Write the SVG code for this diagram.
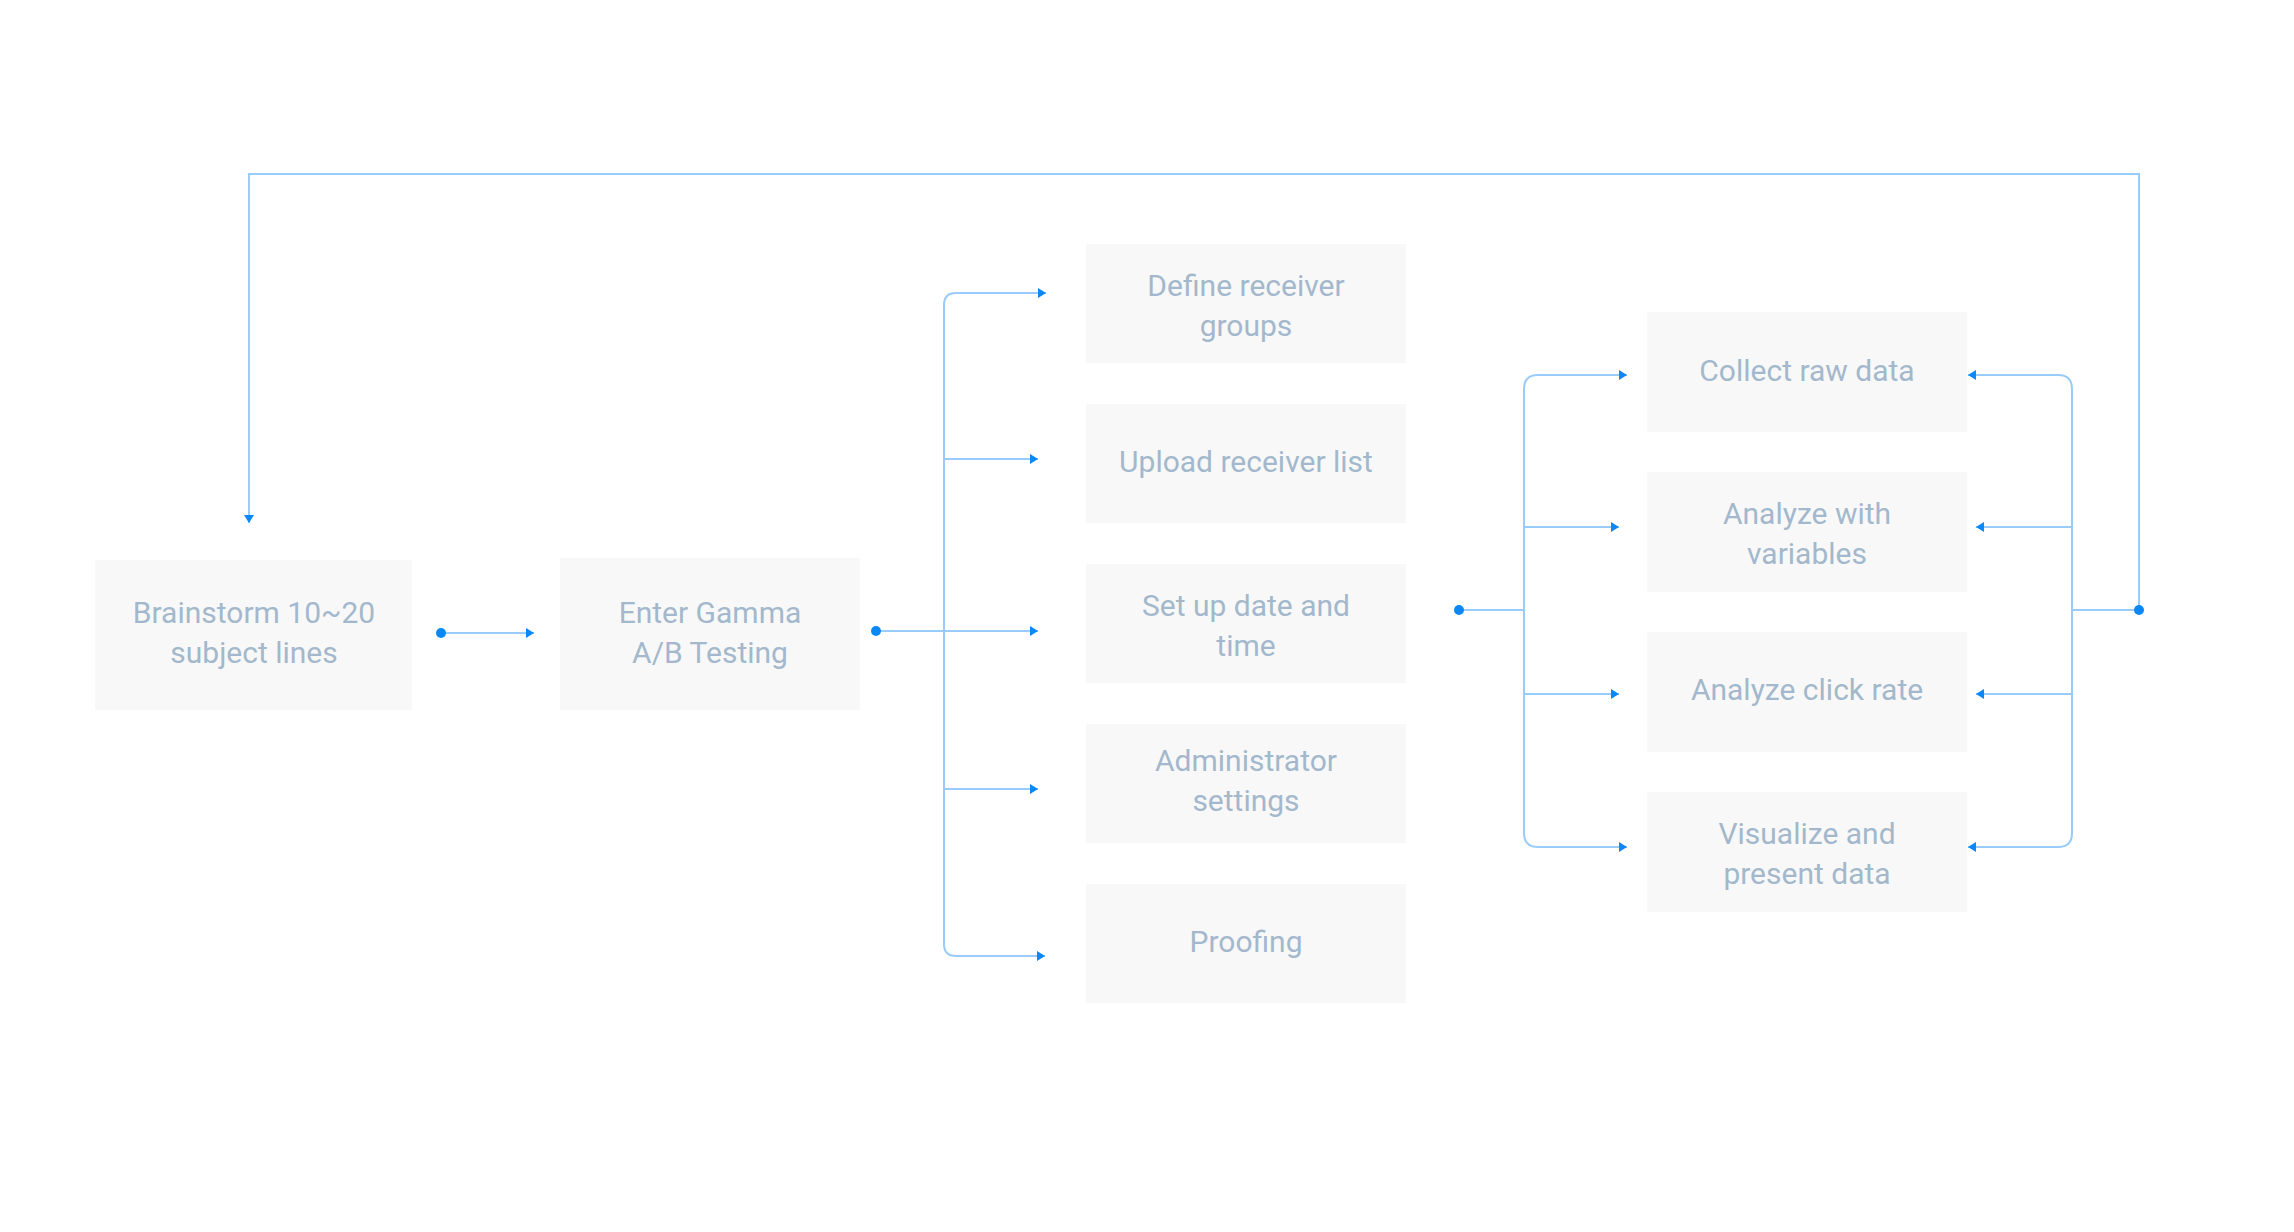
<svg xmlns="http://www.w3.org/2000/svg" width="2294" height="1232" viewBox="0 0 2294 1232">
<style>
.box{fill:#f8f8f8}
.t{font-family:Roboto,"Liberation Sans",sans-serif;font-size:30px;fill:#a3b8cc;text-anchor:middle}
.ln{fill:none;stroke:#99ccfc;stroke-width:2}
.ar{marker-end:url(#ah)}
.dot{fill:#0a88f7}
</style>
<defs>
<marker id="ah" viewBox="0 0 8 10" refX="8" refY="5" markerWidth="8" markerHeight="10" markerUnits="userSpaceOnUse" orient="auto">
<path d="M0,0 L8,5 L0,10 z" fill="#0a88f7"/>
</marker>
</defs>
<rect width="2294" height="1232" fill="#ffffff"/>
<g id="connectors">
<path class="ln ar" d="M441,633 H534"/>
<path class="ln" d="M876,631 H944"/>
<path class="ln ar" d="M944,631 V305 Q944,293 956,293 H1046"/>
<path class="ln ar" d="M944,631 V944 Q944,956 956,956 H1045"/>
<path class="ln ar" d="M944,459 H1038"/>
<path class="ln ar" d="M944,631 H1038"/>
<path class="ln ar" d="M944,789 H1038"/>
<path class="ln" d="M1458,610 H1524"/>
<path class="ln ar" d="M1524,610 V389 Q1524,375 1538,375 H1627"/>
<path class="ln ar" d="M1524,610 V833 Q1524,847 1538,847 H1627"/>
<path class="ln ar" d="M1524,527 H1619"/>
<path class="ln ar" d="M1524,694 H1619"/>
<path class="ln" d="M2139,610 H2072"/>
<path class="ln ar" d="M2072,610 V389 Q2072,375 2058,375 H1968"/>
<path class="ln ar" d="M2072,610 V833 Q2072,847 2058,847 H1968"/>
<path class="ln ar" d="M2072,527 H1976"/>
<path class="ln ar" d="M2072,694 H1976"/>
<path class="ln ar" d="M2139,610 V174 H249 V523"/>
<circle class="dot" cx="441" cy="633" r="5"/>
<circle class="dot" cx="876" cy="631" r="5"/>
<circle class="dot" cx="1459" cy="610" r="5"/>
<circle class="dot" cx="2139" cy="610" r="5"/>
</g>
<g id="n-brainstorm"><rect class="box" x="95" y="560" width="317" height="150"/><text class="t" x="254" y="623">Brainstorm 10~20</text><text class="t" x="254" y="663">subject lines</text></g>
<g id="n-enter"><rect class="box" x="560" y="558" width="300" height="152"/><text class="t" x="710" y="623">Enter Gamma</text><text class="t" x="710" y="663">A/B Testing</text></g>
<g id="n-define"><rect class="box" x="1086" y="244" width="320" height="119"/><text class="t" x="1246" y="296">Define receiver</text><text class="t" x="1246" y="336">groups</text></g>
<g id="n-upload"><rect class="box" x="1086" y="404" width="320" height="119"/><text class="t" x="1246" y="472">Upload receiver list</text></g>
<g id="n-setup"><rect class="box" x="1086" y="564" width="320" height="119"/><text class="t" x="1246" y="616">Set up date and</text><text class="t" x="1246" y="656">time</text></g>
<g id="n-admin"><rect class="box" x="1086" y="724" width="320" height="119"/><text class="t" x="1246" y="771">Administrator</text><text class="t" x="1246" y="811">settings</text></g>
<g id="n-proofing"><rect class="box" x="1086" y="884" width="320" height="119"/><text class="t" x="1246" y="952">Proofing</text></g>
<g id="n-collect"><rect class="box" x="1647" y="312" width="320" height="120"/><text class="t" x="1807" y="381">Collect raw data</text></g>
<g id="n-variables"><rect class="box" x="1647" y="472" width="320" height="120"/><text class="t" x="1807" y="524">Analyze with</text><text class="t" x="1807" y="564">variables</text></g>
<g id="n-click"><rect class="box" x="1647" y="632" width="320" height="120"/><text class="t" x="1807" y="700">Analyze click rate</text></g>
<g id="n-visualize"><rect class="box" x="1647" y="792" width="320" height="120"/><text class="t" x="1807" y="844">Visualize and</text><text class="t" x="1807" y="884">present data</text></g>
</svg>
